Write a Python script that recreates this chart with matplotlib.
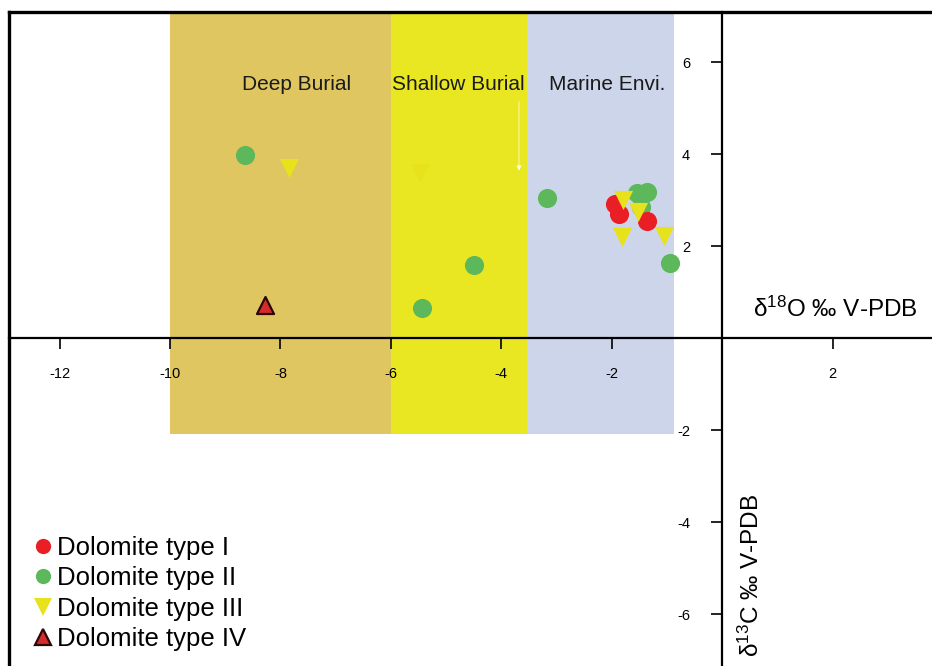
import matplotlib.pyplot as plt
from matplotlib.lines import Line2D

plt.rcParams['font.family'] = ['Liberation Sans', 'DejaVu Sans']
plt.rcParams['mathtext.default'] = 'regular'

# diagenetic environment fields (d18O bounds) and their labels
zone_names = ["Deep Burial", "Shallow Burial", "Marine Envi."]
zone_x0 = [-10.0, -6.0, -3.53]
zone_x1 = [-6.0, -3.53, -0.88]
zone_colors = ["#dfc660", "#e9e722", "#ccd5ea"]
zone_label_x = [-7.70, -4.78, -2.08]
zone_bottom = -2.08
frame_top = 7.09

# d18O (x) / d13C (y) values per dolomite type
type1_x = [-1.94, -1.87, -1.36]
type1_y = [2.91, 2.70, 2.54]
type2_x = [-8.64, -3.17, -4.49, -5.43, -0.94, -1.54, -1.36, -1.47]
type2_y = [3.98, 3.04, 1.59, 0.65, 1.63, 3.15, 3.17, 2.85]
type3_x = [-7.84, -5.47, -1.79, -1.52, -1.81, -1.05]
type3_y = [3.70, 3.59, 3.00, 2.74, 2.20, 2.22]
type4_x = [-8.28]
type4_y = [0.72]

xticks = [-12, -10, -8, -6, -4, -2, 2]
yticks = [-6, -4, -2, 2, 4, 6]

fig = plt.figure(figsize=(9.32, 6.66), dpi=100)
ax = fig.add_axes([0, 0, 1, 1])
ax.set_xlim(-13.08, 3.8)
ax.set_ylim(-7.13, 7.35)

for x0, x1, c, name, lx in zip(zone_x0, zone_x1, zone_colors, zone_names, zone_label_x):
    ax.fill_between([x0, x1], zone_bottom, frame_top, color=c, lw=0, zorder=1)
    ax.text(lx, 5.52, name, ha='center', va='center', fontsize=15, color='#1a1a1a', zorder=3)

# thin white pointer inside the shallow burial field
ax.annotate('', xy=(-3.68, 3.58), xytext=(-3.68, 5.2),
            arrowprops=dict(arrowstyle='-|>', color='white', lw=0.6, mutation_scale=7,
                            alpha=0.8),
            zorder=2)

ax.scatter(type2_x, type2_y, s=190, marker='o', color='#5cb85a', lw=0, zorder=4,
           label='Dolomite type II')
ax.scatter(type1_x, type1_y, s=190, marker='o', color='#ea1f26', lw=0, zorder=5,
           label='Dolomite type I')
ax.scatter(type3_x, type3_y, s=190, marker='v', color='#e8e21c', lw=0, zorder=6,
           label='Dolomite type III')
ax.scatter(type4_x, type4_y, s=150, marker='^', color='#d62b2b', edgecolor='#2a0808',
           lw=1.6, zorder=6, label='Dolomite type IV')

# axes crossing at the origin
for side in ['top', 'right']:
    ax.spines[side].set_visible(False)
ax.spines['left'].set_position(('data', 0))
ax.spines['bottom'].set_position(('data', 0))
ax.spines['left'].set_linewidth(1.6)
ax.spines['bottom'].set_linewidth(1.6)
ax.spines['bottom'].set_bounds(-12.92, 3.8)
ax.spines['left'].set_bounds(-7.13, frame_top)
for sp in ax.spines.values():
    sp.set_zorder(7)

ax.set_xticks(xticks)
ax.set_xticklabels([str(t) for t in xticks])
ax.set_yticks(yticks)
ax.set_yticklabels([str(t) for t in yticks])
ax.tick_params(axis='x', direction='out', length=8, width=1.2, pad=13, labelsize=10.5)
ax.tick_params(axis='y', direction='out', length=8, width=1.2, pad=15, labelsize=10.5)

ax.text(0.55, 0.62, 'δ$^{18}$O ‰ V-PDB', fontsize=17.5, ha='left', va='center', zorder=8)
ax.text(0.52, -5.15, 'δ$^{13}$C ‰ V-PDB', fontsize=17.5, rotation=90,
        ha='center', va='center', zorder=8)

handles = [
    Line2D([], [], ls='none', marker='o', ms=11, color='#ea1f26', mew=0),
    Line2D([], [], ls='none', marker='o', ms=11, color='#5cb85a', mew=0),
    Line2D([], [], ls='none', marker='v', ms=13, color='#e8e21c', mew=0),
    Line2D([], [], ls='none', marker='^', ms=12, color='#d62b2b', mec='#2a0808', mew=1.6),
]
labels = ['Dolomite type I', 'Dolomite type II', 'Dolomite type III', 'Dolomite type IV']
ax.legend(handles, labels, loc='lower left', bbox_to_anchor=(0.012, -0.004),
          frameon=False, fontsize=18.5, handletextpad=0.0, handlelength=1.1,
          labelspacing=0.24, borderaxespad=0.3)

# outer frame (left and top edges)
fx = 9 / 932
fy = 1 - 12 / 666
fig.add_artist(Line2D([fx, fx], [0, fy], color='black', lw=2.4))
fig.add_artist(Line2D([fx, 1], [fy, fy], color='black', lw=2.4))

fig.savefig('out.png', dpi=100)
